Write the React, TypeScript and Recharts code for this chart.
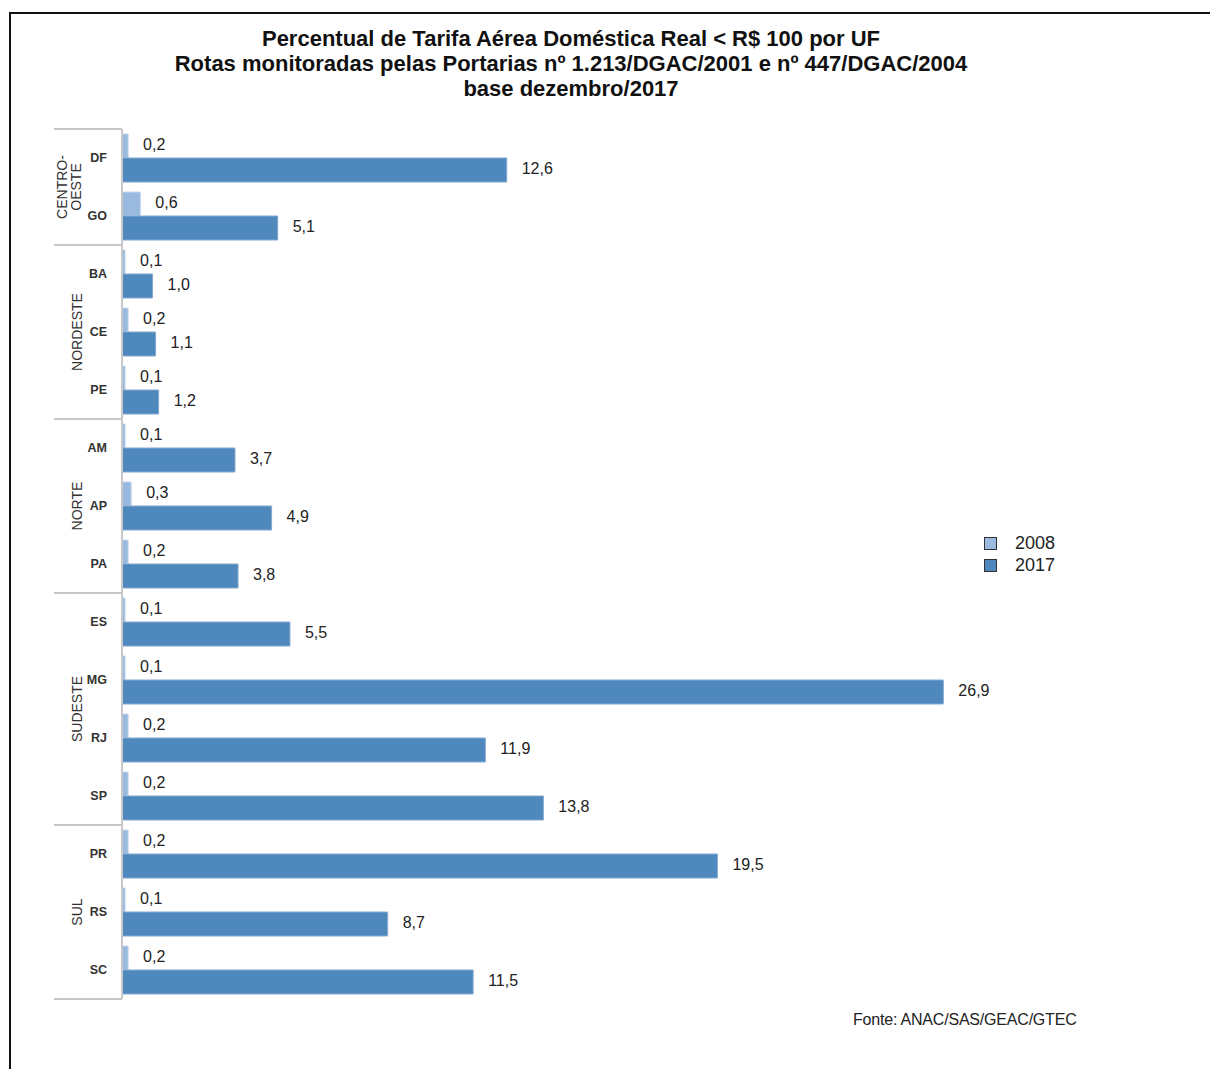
import React from 'react';
import { BarChart, Bar, XAxis, YAxis, LabelList } from 'recharts';

const ufs = ['DF', 'GO', 'BA', 'CE', 'PE', 'AM', 'AP', 'PA', 'ES', 'MG', 'RJ', 'SP', 'PR', 'RS', 'SC'];
const regioes = ['CENTRO-OESTE', 'CENTRO-OESTE', 'NORDESTE', 'NORDESTE', 'NORDESTE', 'NORTE', 'NORTE', 'NORTE', 'SUDESTE', 'SUDESTE', 'SUDESTE', 'SUDESTE', 'SUL', 'SUL', 'SUL'];
const valores2008 = [0.2, 0.6, 0.1, 0.2, 0.1, 0.1, 0.3, 0.2, 0.1, 0.1, 0.2, 0.2, 0.2, 0.1, 0.2];
const valores2017 = [12.6, 5.1, 1.0, 1.1, 1.2, 3.7, 4.9, 3.8, 5.5, 26.9, 11.9, 13.8, 19.5, 8.7, 11.5];
const tituloLinhas = [
  'Percentual de Tarifa Aérea Doméstica Real < R$ 100 por UF',
  'Rotas monitoradas pelas Portarias nº 1.213/DGAC/2001 e nº 447/DGAC/2004',
  'base dezembro/2017',
];

const data = ufs.map((uf, i) => ({ uf, regiao: regioes[i], v2008: valores2008[i], v2017: valores2017[i] }));

const W = 1218;
const H = 1077;
const MARGIN = { top: 129, right: 180, bottom: 78, left: 0 };
const AXIS_W = 122;
const BAND = (H - MARGIN.top - MARGIN.bottom) / ufs.length;
const COR_2008 = '#99b9de';
const COR_2017 = '#4f88bd';
const LINHA = '#c8c8c8';

const fmt = (v: any) => Number(v).toFixed(1).replace('.', ',');

const UfTick = (props: any) => {
  const { x, y, payload, index } = props;
  const regiao = regioes[index];
  const first = index === 0 || regioes[index - 1] !== regiao;
  const last = index === regioes.length - 1;
  const count = regioes.filter((r) => r === regiao).length;
  const axisX = x + 15;
  const top = y - BAND / 2;
  const gy = top + (count * BAND) / 2;
  const partes = regiao === 'CENTRO-OESTE' ? ['CENTRO-', 'OESTE'] : [regiao];
  const xs = partes.length === 2 ? [62, 76] : [77];
  return (
    <g>
      <text x={x} y={y + 4} textAnchor="end" fontSize={12.5} fontWeight="bold" fill="#333">
        {payload.value}
      </text>
      {first && <line x1={54} x2={axisX} y1={top} y2={top} stroke={LINHA} strokeWidth={2} />}
      {last && <line x1={54} x2={axisX} y1={y + BAND / 2} y2={y + BAND / 2} stroke={LINHA} strokeWidth={2} />}
      {first &&
        partes.map((p, k) => (
          <text
            key={p}
            x={xs[k]}
            y={gy}
            transform={`rotate(-90, ${xs[k]}, ${gy})`}
            textAnchor="middle"
            dominantBaseline="central"
            fontSize={14}
            fill="#333"
          >
            {p}
          </text>
        ))}
    </g>
  );
};

const legenda = [
  { nome: '2008', cor: COR_2008 },
  { nome: '2017', cor: COR_2017 },
];

export default function App() {
  return (
    <div style={{ margin: -8, position: 'relative', width: W, height: H, overflow: 'hidden', background: '#fff', fontFamily: 'Liberation Sans, Arial, sans-serif' }}>
      <div style={{ position: 'absolute', left: 9, top: 12, width: 1400, height: 1400, border: '2px solid #111' }} />
      <div style={{ position: 'absolute', left: 0, top: 26, width: 1142, textAlign: 'center', fontSize: 22, fontWeight: 'bold', lineHeight: '25px', color: '#111' }}>
        {tituloLinhas.map((t) => (
          <div key={t}>{t}</div>
        ))}
      </div>
      <div style={{ position: 'absolute', left: 0, top: 0 }}>
        <BarChart width={W} height={H} data={data} layout="vertical" margin={MARGIN} barCategoryGap={5} barGap={0}>
          <XAxis type="number" domain={[0, 30]} hide />
          <YAxis
            type="category"
            dataKey="uf"
            width={AXIS_W}
            tickSize={0}
            tickMargin={15}
            tickLine={false}
            axisLine={{ stroke: LINHA, strokeWidth: 2 }}
            tick={<UfTick />}
            interval={0}
          />
          <Bar dataKey="v2008" name="2008" fill={COR_2008} stroke="#c4d6ec" strokeWidth={1} isAnimationActive={false}>
            <LabelList dataKey="v2008" position="right" offset={15} formatter={fmt} fontSize={16} fill="#222" dy={-2} />
          </Bar>
          <Bar dataKey="v2017" name="2017" fill={COR_2017} stroke="#86a9d0" strokeWidth={1} isAnimationActive={false}>
            <LabelList dataKey="v2017" position="right" offset={15} formatter={fmt} fontSize={16} fill="#222" dy={-2} />
          </Bar>
        </BarChart>
      </div>
      <div style={{ position: 'absolute', left: 984, top: 532, fontSize: 18, color: '#222' }}>
        {legenda.map((it) => (
          <div key={it.nome} style={{ display: 'flex', alignItems: 'center', height: 22 }}>
            <span style={{ width: 11, height: 11, background: it.cor, border: '1px solid #333', marginRight: 18 }} />
            <span>{it.nome}</span>
          </div>
        ))}
      </div>
      <div style={{ position: 'absolute', left: 853, top: 1011, fontSize: 16, letterSpacing: -0.2, color: '#222' }}>
        Fonte: ANAC/SAS/GEAC/GTEC
      </div>
    </div>
  );
}
